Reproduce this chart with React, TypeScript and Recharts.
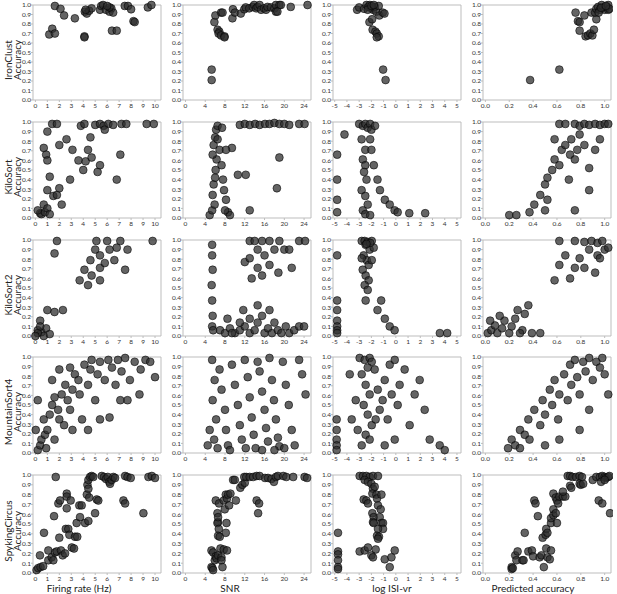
import { ScatterChart, Scatter, XAxis, YAxis, ReferenceLine } from 'recharts';

type Pt = [number, number];

const sorters = ['IronClust', 'KiloSort', 'KiloSort2', 'MountainSort4', 'SpykingCircus'];
const metricTitles = ['Firing rate (Hz)', 'SNR', 'log ISI-vr', 'Predicted accuracy'];

const accuracyTicks = [0, 0.1, 0.2, 0.3, 0.4, 0.5, 0.6, 0.7, 0.8, 0.9, 1.0];
const firingRateTicks = [0, 1, 2, 3, 4, 5, 6, 7, 8, 9, 10];
const snrTicks = [0, 4, 8, 12, 16, 20, 24];
const isiTicks = [-5, -4, -3, -2, -1, 0, 1, 2, 3, 4, 5];
const predTicks = [0, 0.2, 0.4, 0.6, 0.8, 1.0];

// IronClust
const ironFr: Pt[] = [[1.63,0.99],[2.1,0.96],[2.4,0.89],[3.3,0.86],[1.16,0.69],[1.41,0.75],[1.63,0.70],[4.1,0.67],[4.1,0.66],[4.13,0.93],[4.3,0.91],[4.5,0.94],[4.7,0.965],[4.2,0.95],[5.4,0.95],[5.5,0.99],[5.66,1.0],[5.9,0.95],[6.2,0.93],[6.35,0.965],[6.5,0.92],[6.2,0.975],[6.0,0.99],[6.4,0.73],[6.8,0.73],[7.47,0.99],[7.74,0.99],[8.0,0.955],[8.2,0.83],[8.3,0.82],[9.4,0.975],[9.7,1.0]];
const ironSnr: Pt[] = [[5.3,0.32],[5.3,0.21],[5.85,0.82],[6.05,0.89],[6.5,0.74],[6.85,0.72],[6.7,0.70],[7.2,0.68],[7.9,0.67],[7.9,0.66],[7.2,0.92],[7.5,0.92],[9.5,0.86],[9.6,0.955],[10.0,0.92],[11.2,0.91],[11.9,0.955],[12.2,0.975],[12.9,0.965],[13.6,0.98],[13.9,1.0],[14.3,0.965],[14.6,0.98],[15.0,1.0],[15.3,0.95],[15.9,0.965],[16.3,0.95],[16.6,0.98],[17.3,0.975],[18.0,0.965],[18.3,1.0],[19.0,1.0],[19.3,1.0],[18.3,0.93],[18.6,0.93],[21.3,0.98],[24.7,1.0]];
const ironIsi: Pt[] = [[-3.17,0.95],[-3.0,0.975],[-2.6,0.96],[-2.4,1.0],[-2.26,0.98],[-2.13,1.0],[-1.99,0.965],[-1.86,0.95],[-2.3,0.95],[-1.72,0.98],[-1.6,0.93],[-1.4,0.99],[-1.35,0.89],[-1.07,0.92],[-0.93,0.91],[-2.0,0.99],[-1.8,1.0],[-2.16,0.82],[-1.94,0.85],[-1.9,0.74],[-1.67,0.72],[-1.56,0.70],[-1.4,0.67],[-1.56,0.66],[-1.04,0.32],[-0.84,0.21]];
const ironPred: Pt[] = [[0.375,0.21],[0.62,0.32],[0.756,0.92],[0.776,0.83],[0.79,0.82],[0.79,0.73],[0.83,0.89],[0.84,0.67],[0.86,0.68],[0.88,0.70],[0.897,0.68],[0.91,0.74],[0.93,0.85],[0.89,0.92],[0.92,0.92],[0.93,0.96],[0.945,0.98],[0.96,0.95],[0.975,1.0],[0.99,0.975],[1.0,0.95],[1.02,0.98],[1.03,0.95],[1.03,1.0],[0.95,0.92],[1.04,0.96],[0.97,0.97],[1.01,0.99]];

// KiloSort
const ksFr: Pt[] = [[1.4,0.98],[1.8,0.98],[3.8,0.96],[4.1,0.98],[5.0,0.97],[5.4,0.98],[5.7,0.96],[6.1,0.98],[6.5,0.97],[7.2,0.98],[7.6,0.98],[9.3,0.98],[9.9,0.98],[1.0,0.9],[0.7,0.73],[0.9,0.66],[1.0,0.6],[2.0,0.76],[2.6,0.82],[1.2,0.43],[1.0,0.29],[1.5,0.23],[1.8,0.24],[2.2,0.14],[0.7,0.14],[0.4,0.05],[0.5,0.04],[0.8,0.06],[1.0,0.1],[1.2,0.04],[2.9,0.4],[3.1,0.71],[3.6,0.6],[4.0,0.5],[4.2,0.59],[4.4,0.71],[4.7,0.63],[5.2,0.48],[5.4,0.55],[4.6,0.84],[5.8,0.92],[6.8,0.4],[7.1,0.66],[2.0,0.31],[0.2,0.08]];
const ksSnr: Pt[] = [[4.9,0.03],[5.4,0.08],[5.9,0.14],[5.5,0.24],[5.7,0.35],[6.0,0.42],[6.1,0.5],[6.3,0.61],[5.5,0.66],[5.7,0.76],[6.0,0.84],[6.2,0.92],[6.5,0.96],[6.9,0.71],[7.3,0.55],[7.8,0.29],[8.2,0.19],[8.6,0.06],[9.0,0.03],[6.5,0.82],[7.4,0.94],[11,0.97],[12,0.98],[13,0.97],[14.1,0.98],[15,0.97],[16.1,0.98],[17,0.98],[18,0.99],[19,0.98],[20,0.98],[21,0.97],[23,0.98],[24.1,0.98],[13,0.08],[12.2,0.45],[18.5,0.31],[19,0.63],[9.4,0.73],[8.2,0.71],[10.6,0.45],[7.6,0.4],[8,0.08]];
const ksIsi: Pt[] = [[-4.8,0.66],[-4.8,0.4],[-4.8,0.19],[-4.8,0.06],[-4.2,0.87],[-1.3,0.29],[-0.9,0.19],[-0.5,0.14],[-0.1,0.08],[0.15,0.06],[1.1,0.05],[2.4,0.05],[-1.5,0.4],[-3,0.98],[-2.7,0.96],[-2.5,0.98],[-2.3,0.94],[-2.1,0.98],[-2,0.92],[-1.7,0.96],[-2.8,0.82],[-2.5,0.71],[-2.7,0.61],[-2.5,0.55],[-2.6,0.48],[-2.4,0.4],[-2.8,0.29],[-2.5,0.23],[-2.3,0.14],[-2.7,0.08],[-2.5,0.04],[-2.1,0.03],[-2,0.71],[-1.8,0.55],[-2.1,0.82]];
const ksPred: Pt[] = [[0.62,0.98],[0.67,0.98],[0.75,0.98],[0.79,0.96],[0.83,0.98],[0.87,0.97],[0.92,0.98],[0.96,0.97],[1.0,0.98],[1.03,0.98],[0.2,0.03],[0.26,0.03],[0.37,0.06],[0.41,0.14],[0.46,0.24],[0.5,0.35],[0.52,0.42],[0.56,0.5],[0.58,0.61],[0.62,0.55],[0.64,0.71],[0.67,0.76],[0.71,0.66],[0.72,0.82],[0.75,0.61],[0.77,0.71],[0.79,0.87],[0.83,0.76],[0.87,0.52],[0.92,0.71],[0.96,0.82],[0.52,0.19],[0.5,0.08],[0.75,0.08],[0.58,0.82],[0.7,0.4],[0.87,0.29]];

// KiloSort2
const ks2Fr: Pt[] = [[1.8,0.99],[5.1,0.99],[6.0,0.99],[7.1,0.99],[9.8,0.99],[5.0,0.9],[5.4,0.84],[4.6,0.79],[4.1,0.69],[4.7,0.63],[3.7,0.58],[5.4,0.71],[6.2,0.9],[6.6,0.79],[7.7,0.9],[7.5,0.69],[5.8,0.76],[4.4,0.53],[5.4,0.58],[6.8,0.92],[1.6,0.86],[1.0,0.27],[1.6,0.25],[2.3,0.27],[0.4,0.16],[0.2,0.06],[0.5,0.04],[0.7,0.0],[0.9,0.08],[1.2,0.02],[0.2,0.03],[0.4,0.1],[0,0]];
const ks2Snr: Pt[] = [[13,0.99],[14,0.99],[15.5,0.99],[17,0.99],[19,0.99],[23,0.99],[24.2,0.99],[14.6,0.9],[16,0.84],[18,0.9],[20,0.9],[12,0.77],[14.6,0.71],[17,0.74],[18.8,0.66],[21.5,0.71],[21,0.9],[15.5,0.63],[13,0.81],[13.4,0.6],[5.4,0.95],[5.4,0.84],[5.5,0.69],[5.3,0.53],[5.4,0.37],[5.5,0.21],[5.4,0.1],[5.6,0.06],[7,0.06],[8,0.03],[9,0.08],[10,0.03],[11,0.06],[12,0.1],[13,0.03],[14,0.06],[14.6,0.14],[15.5,0.21],[16,0.03],[16.7,0.08],[17.5,0.03],[18,0.14],[18.7,0.06],[19.4,0.03],[20.3,0.1],[21,0.03],[22,0.06],[23,0.1],[24,0.1],[13,0.18],[11,0.14],[8.5,0.18],[11.7,0.27],[14.6,0.32],[17,0.27],[9.4,0.03]];
const ks2Isi: Pt[] = [[-4.8,0.84],[-4.8,0.37],[-4.8,0.27],[-4.8,0.16],[-4.8,0.1],[-4.8,0.06],[-4.8,0.03],[-1.5,0.27],[-0.9,0.18],[-0.5,0.1],[-0.1,0.06],[-1.2,0.37],[3.6,0.03],[4.2,0.03],[-2.79,0.99],[-2.55,0.99],[-2.3,0.98],[-1.97,0.99],[-2.47,0.95],[-2.14,0.9],[-2.63,0.84],[-2.38,0.79],[-2.22,0.74],[-2.71,0.69],[-2.47,0.63],[-2.22,0.58],[-2.55,0.53],[-2.3,0.48],[-1.97,0.79],[-1.81,0.92],[-2.79,0.81],[-2.47,0.37],[-2.1,0.97],[-2.4,0.96]];
const ks2Pred: Pt[] = [[0.62,0.99],[0.75,0.99],[0.83,0.98],[0.89,0.99],[0.94,0.97],[0.98,0.99],[1.0,0.9],[0.94,0.84],[0.87,0.9],[0.79,0.81],[0.75,0.71],[0.71,0.6],[0.83,0.71],[0.92,0.66],[0.96,0.81],[0.67,0.84],[0.58,0.58],[0.62,0.74],[1.03,0.92],[0.02,0.03],[0.05,0.06],[0.08,0.11],[0.1,0.03],[0.14,0.08],[0.16,0.16],[0.2,0.03],[0.22,0.1],[0.25,0.18],[0.27,0.27],[0.31,0.06],[0.33,0.23],[0.36,0.32],[0.39,0.03],[0.04,0.16],[0.12,0.21],[0.29,0.03],[0.46,0.03]];

// MountainSort4
const ms4Fr: Pt[] = [[0.2,0.03],[0.4,0.08],[0.5,0.14],[0.8,0.19],[1.0,0.24],[0.7,0.35],[1.2,0.4],[1.4,0.5],[1.6,0.58],[1.9,0.45],[2.0,0.35],[2.2,0.61],[2.5,0.71],[2.7,0.55],[2.9,0.45],[3.1,0.66],[3.3,0.82],[3.6,0.76],[3.7,0.61],[3.9,0.35],[4.1,0.92],[4.4,0.71],[4.6,0.87],[4.7,0.97],[5.0,0.55],[5.2,0.82],[5.4,0.95],[5.8,0.76],[6.1,0.97],[6.4,0.89],[6.7,0.71],[6.9,0.97],[7.2,0.85],[7.5,0.99],[7.9,0.76],[8.3,0.95],[8.8,0.87],[9.2,0.97],[9.6,0.95],[10.0,0.79],[0.03,0.24],[0.9,0.05],[1.6,0.14],[2.4,0.29],[3.1,0.24],[4.4,0.24],[1.4,0.76],[2.0,0.87],[6.2,0.37],[7.7,0.55],[0.2,0.55],[5.4,0.35],[2.9,0.89],[8.7,0.61],[7.1,0.55]];
const ms4Snr: Pt[] = [[5.4,0.97],[5.9,0.76],[5.5,0.55],[6.2,0.35],[5.8,0.14],[6.5,0.05],[6.9,0.87],[7.3,0.66],[8.0,0.45],[8.2,0.24],[8.6,0.08],[9.4,0.92],[10,0.71],[10.6,0.5],[11,0.29],[11.4,0.14],[12,0.97],[12.6,0.79],[13,0.58],[13.4,0.37],[13.8,0.19],[14.2,0.05],[14.6,0.95],[15,0.85],[15.5,0.64],[16,0.45],[16.3,0.26],[16.7,0.12],[17,0.99],[17.5,0.76],[17.9,0.55],[18.3,0.35],[18.7,0.16],[19,0.07],[19.7,0.95],[20.3,0.71],[20.9,0.5],[21.5,0.24],[22.1,0.08],[23,0.97],[23.6,0.82],[24.3,0.61],[4.5,0.08],[4.9,0.24],[9,0.03],[12.2,0.05],[15.5,0.03],[18,0.03],[20,0.05]];
const ms4Isi: Pt[] = [[-4.84,0.14],[-4.84,0.08],[-4.84,0.03],[-4.84,0.24],[-4.84,0.35],[-2.96,0.99],[-2.55,0.97],[-2.14,0.99],[-1.97,0.95],[-2.3,0.89],[-2.79,0.82],[-2.47,0.71],[-2.14,0.61],[-2.63,0.5],[-2.3,0.4],[-1.97,0.29],[-2.47,0.19],[-2.79,0.08],[-2.14,0.14],[-1.73,0.87],[-1.48,0.66],[-1.32,0.45],[-1.65,0.35],[-1.08,0.55],[-0.91,0.76],[-0.67,0.35],[-0.5,0.92],[-0.34,0.61],[-0.09,0.14],[0.15,0.5],[0.31,0.71],[0.72,0.87],[1.13,0.29],[1.54,0.61],[1.95,0.76],[2.36,0.45],[2.77,0.14],[3.59,0.08],[4.0,0.03],[-3.28,0.55],[-3.61,0.35],[-3.12,0.24],[-3.77,0.82],[-0.91,0.08],[-0.09,0.97]];
const ms4Pred: Pt[] = [[0.19,0.05],[0.22,0.14],[0.25,0.08],[0.29,0.24],[0.33,0.19],[0.36,0.35],[0.37,0.14],[0.41,0.45],[0.46,0.29],[0.48,0.55],[0.5,0.4],[0.54,0.66],[0.56,0.5],[0.58,0.76],[0.61,0.35],[0.62,0.61],[0.66,0.82],[0.69,0.55],[0.71,0.92],[0.72,0.71],[0.75,0.97],[0.77,0.79],[0.79,0.61],[0.82,0.95],[0.84,0.85],[0.87,0.99],[0.9,0.76],[0.93,0.95],[0.96,0.89],[0.98,0.99],[1.0,0.82],[1.03,0.61],[0.62,0.14],[0.5,0.08],[0.87,0.45],[0.79,0.24],[0.29,0.05]];

// SpykingCircus
const scFr: Pt[] = [[0.1,0.03],[0.23,0.05],[0.43,0.06],[0.65,0.07],[0.38,0.18],[0.72,0.41],[1.08,0.13],[1.08,0.23],[1.36,0.16],[1.5,0.13],[1.56,0.58],[1.64,0.21],[1.78,0.22],[1.7,0.98],[1.92,0.71],[2.06,0.74],[2.0,0.36],[2.14,0.23],[2.28,0.18],[2.48,0.2],[2.62,0.81],[2.62,0.78],[2.62,0.66],[2.54,0.45],[2.75,0.45],[2.84,0.39],[2.95,0.74],[3.04,0.26],[3.23,0.25],[3.31,0.37],[3.5,0.37],[3.45,0.51],[3.67,0.69],[3.73,0.57],[3.87,0.69],[4.15,0.51],[4.43,0.53],[4.3,0.8],[4.5,0.77],[4.35,0.9],[4.43,0.95],[4.57,0.98],[4.43,0.86],[4.7,0.99],[4.84,0.98],[5.13,0.75],[5.26,0.74],[4.99,0.61],[5.55,0.99],[5.74,0.98],[5.9,0.96],[6.05,0.98],[6.18,0.93],[6.24,0.91],[6.38,0.95],[6.52,0.98],[6.66,0.97],[7.5,0.99],[7.7,0.98],[7.97,0.97],[7.36,0.74],[7.5,0.71],[9.03,0.61],[9.45,0.98],[9.73,0.99],[10.0,0.97]];
const scSnr: Pt[] = [[5.26,0.06],[5.46,0.05],[5.6,0.03],[5.26,0.23],[5.6,0.21],[5.93,0.13],[6.13,0.17],[6.27,0.15],[6.6,0.18],[6.13,0.74],[6.47,0.61],[6.6,0.52],[6.47,0.51],[6.6,0.57],[6.8,0.71],[6.74,0.45],[6.6,0.38],[6.94,0.37],[7.08,0.25],[7.28,0.16],[7.28,0.13],[7.49,0.06],[7.75,0.24],[8.4,0.23],[7.75,0.74],[8.16,0.8],[8.4,0.76],[7.95,0.65],[8.3,0.51],[8.16,0.41],[8.63,0.8],[9.1,0.81],[8.83,0.69],[9.64,0.95],[9.98,0.95],[10.2,0.74],[11.1,0.87],[11.5,0.9],[12.0,0.92],[11.9,0.98],[12.3,0.98],[13.0,0.98],[13.7,0.98],[14.4,0.99],[15.0,0.99],[14.4,0.74],[14.9,0.71],[14.7,0.61],[16.1,0.97],[16.7,0.97],[17.4,0.96],[17.9,0.93],[18.3,0.98],[18.7,0.99],[19.8,0.99],[20.4,0.98],[21.8,0.98],[24.1,0.98],[24.6,0.97]];
const scIsi: Pt[] = [[-4.73,0.41],[-4.73,0.22],[-4.73,0.19],[-4.73,0.13],[-4.73,0.06],[-4.73,0.04],[-2.96,0.99],[-2.69,0.99],[-2.41,0.99],[-2.14,0.98],[-1.87,0.99],[-1.46,0.99],[-2.55,0.95],[-2.28,0.93],[-2.0,0.91],[-1.87,0.86],[-1.73,0.88],[-2.63,0.75],[-2.41,0.74],[-2.28,0.71],[-1.92,0.81],[-1.59,0.8],[-1.54,0.76],[-1.18,0.8],[-1.92,0.61],[-1.81,0.57],[-1.87,0.52],[-1.81,0.51],[-1.46,0.69],[-1.32,0.57],[-1.24,0.65],[-1.18,0.51],[-1.05,0.51],[-1.05,0.45],[-1.46,0.45],[-1.54,0.38],[-1.38,0.37],[-1.46,0.35],[-2.96,0.22],[-2.55,0.23],[-2.28,0.26],[-1.65,0.24],[-2.0,0.18],[-1.87,0.16],[-0.91,0.14],[-0.5,0.06],[-0.36,0.16],[-0.09,0.23]];
const scPred: Pt[] = [[0.22,0.06],[0.22,0.04],[0.23,0.05],[0.25,0.18],[0.26,0.13],[0.27,0.22],[0.31,0.13],[0.32,0.13],[0.33,0.41],[0.36,0.22],[0.39,0.23],[0.41,0.74],[0.42,0.71],[0.44,0.58],[0.4,0.17],[0.455,0.16],[0.47,0.18],[0.49,0.06],[0.48,0.36],[0.505,0.39],[0.51,0.45],[0.52,0.41],[0.51,0.25],[0.52,0.16],[0.54,0.14],[0.55,0.23],[0.55,0.51],[0.55,0.56],[0.57,0.59],[0.57,0.65],[0.57,0.81],[0.59,0.77],[0.6,0.74],[0.61,0.71],[0.6,0.51],[0.59,0.61],[0.62,0.78],[0.65,0.78],[0.67,0.78],[0.65,0.83],[0.69,0.99],[0.71,0.99],[0.73,0.98],[0.76,0.98],[0.79,0.99],[0.81,0.98],[0.71,0.89],[0.72,0.87],[0.79,0.91],[0.8,0.9],[0.82,0.91],[0.9,0.95],[0.93,0.98],[0.96,0.98],[0.98,0.99],[1.0,0.98],[1.01,0.97],[1.03,0.98],[1.04,0.99],[0.97,0.93],[1.0,0.95],[0.95,0.74],[0.98,0.71],[1.045,0.61]];

const panels: Pt[][][] = [
  [ironFr, ironSnr, ironIsi, ironPred],
  [ksFr, ksSnr, ksIsi, ksPred],
  [ks2Fr, ks2Snr, ks2Isi, ks2Pred],
  [ms4Fr, ms4Snr, ms4Isi, ms4Pred],
  [scFr, scSnr, scIsi, scPred],
];

const columns = [
  { domain: [-0.2, 10.5], ticks: firingRateTicks, fmt: (v: number) => String(v) },
  { domain: [-0.5, 25.4], ticks: snrTicks, fmt: (v: number) => String(v) },
  { domain: [-5.14, 5.33], ticks: isiTicks, fmt: (v: number) => String(v) },
  { domain: [-0.02, 1.053], ticks: predTicks, fmt: (v: number) => v.toFixed(1) },
];

const PLOT_LEFT = [33, 183, 333, 483];
const PLOT_W = 128;
const PLOT_TOP = [5, 122, 240, 357, 475];
const PLOT_H = [95, 96, 96, 96, 98];
const TITLE_X = [79, 230, 392, 533];
const Y_W = 24;
const X_H = 14;
const M_TOP = 5;
const M_RIGHT = 2;

const FONT = 'Lato, "Open Sans", sans-serif';
const AXIS = '#bdbdbd';
const tickStyle = { fontSize: 6.5, fill: '#333', fontFamily: FONT };

const Dot = (p: any) => (
  <circle cx={p.cx} cy={p.cy} r={3.9} fill="#2e2e2e" fillOpacity={0.74} stroke="#000" strokeOpacity={0.8} strokeWidth={0.7} />
);

function Panel({ row, col }: { row: number; col: number }) {
  const c = columns[col];
  const data = panels[row][col].map(([x, y]) => ({ x, y }));
  return (
    <div style={{ position: 'absolute', left: PLOT_LEFT[col] - Y_W, top: PLOT_TOP[row] - M_TOP }}>
      <ScatterChart
        width={Y_W + PLOT_W + M_RIGHT}
        height={M_TOP + PLOT_H[row] + X_H}
        margin={{ top: M_TOP, right: M_RIGHT, bottom: 0, left: 0 }}
      >
        <XAxis
          type='number'
          dataKey='x'
          domain={c.domain}
          ticks={c.ticks}
          interval={0}
          height={X_H}
          tick={tickStyle}
          tickFormatter={c.fmt}
          tickSize={2}
          tickMargin={1}
          stroke={AXIS}
        />
        <YAxis
          type='number'
          dataKey='y'
          domain={[0, 1]}
          ticks={accuracyTicks}
          interval={0}
          width={Y_W}
          tick={tickStyle}
          tickFormatter={(v: number) => v.toFixed(1)}
          tickSize={2}
          tickMargin={0}
          stroke={AXIS}
        />
        <ReferenceLine y={1} stroke={AXIS} />
        <ReferenceLine x={c.domain[1]} stroke={AXIS} />
        <Scatter data={data} shape={Dot} isAnimationActive={false} />
      </ScatterChart>
    </div>
  );
}

export default function App() {
  return (
    <div style={{ position: 'absolute', left: 0, top: 0, width: 617, height: 594, background: '#fff', fontFamily: FONT, color: '#222' }}>
      {sorters.map((name, row) => (
        <div
          key={name}
          style={{
            position: 'absolute',
            left: 12.5,
            top: PLOT_TOP[row] + (PLOT_H[row] + X_H) / 2,
            transform: 'translate(-50%, -50%) rotate(-90deg)',
            fontSize: 10,
            lineHeight: '9px',
            textAlign: 'center',
            whiteSpace: 'nowrap',
          }}
        >
          {name}
          <br />
          Accuracy
        </div>
      ))}
      {sorters.map((_, row) =>
        columns.map((__, col) => <Panel key={row + '-' + col} row={row} col={col} />)
      )}
      {metricTitles.map((t, col) => (
        <div
          key={t}
          style={{
            position: 'absolute',
            left: TITLE_X[col],
            top: 588,
            transform: 'translate(-50%, -50%)',
            fontSize: 10,
            lineHeight: '11px',
            whiteSpace: 'nowrap',
          }}
        >
          {t}
        </div>
      ))}
    </div>
  );
}
